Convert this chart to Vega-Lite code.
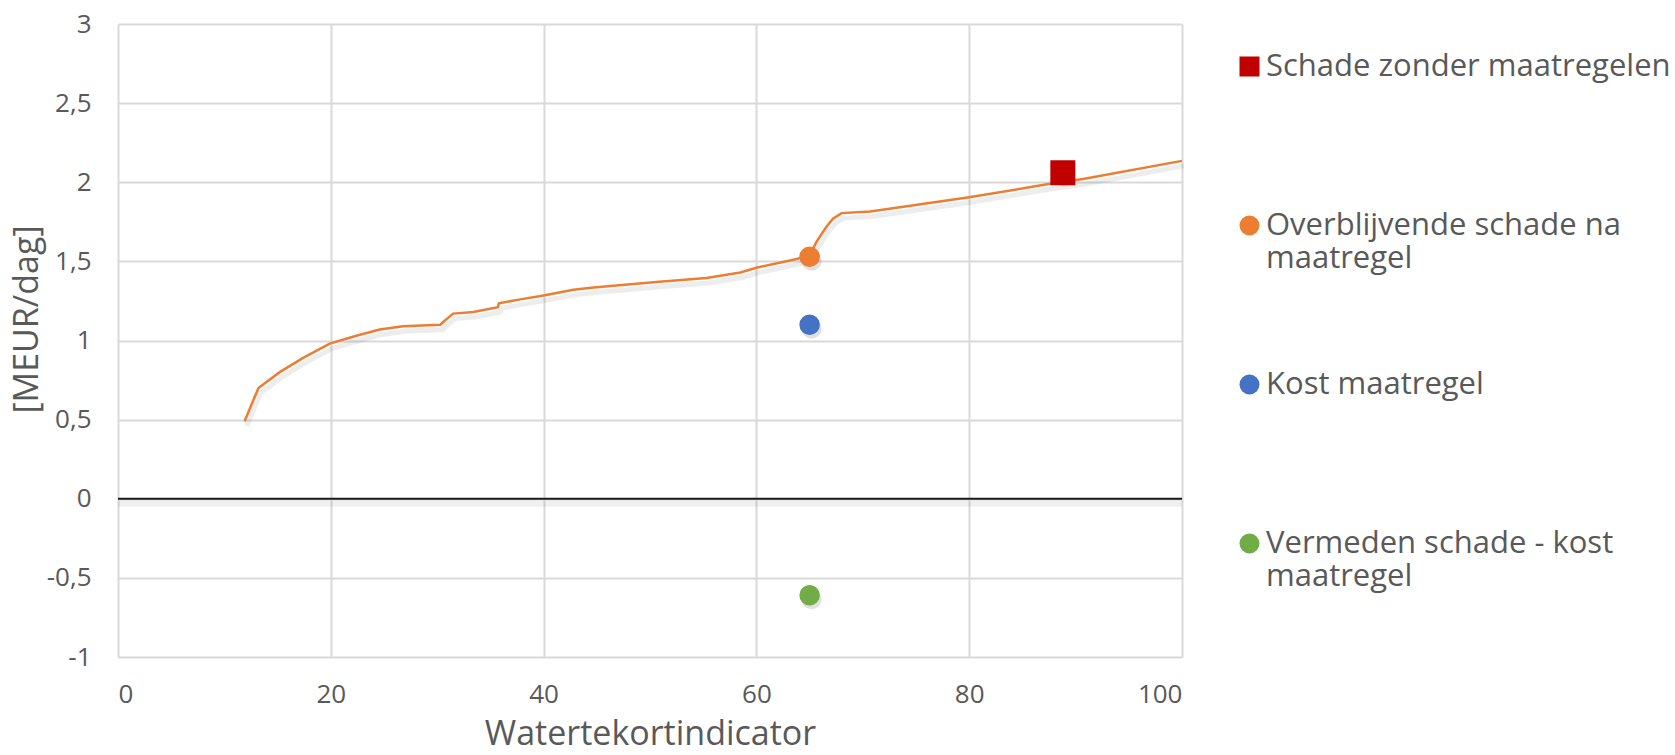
{
  "$schema": "https://vega.github.io/schema/vega-lite/v6.json",
  "width": 1064,
  "height": 633,
  "autosize": {"type": "none"},
  "padding": {"left": 118, "top": 24, "right": 493, "bottom": 98},
  "background": "white",
  "datasets": {
    "curve": [
      {"wt": 11.9, "schade": 0.49},
      {"wt": 13.2, "schade": 0.70},
      {"wt": 15.2, "schade": 0.80},
      {"wt": 17.4, "schade": 0.89},
      {"wt": 19.9, "schade": 0.98},
      {"wt": 22.4, "schade": 1.03},
      {"wt": 24.6, "schade": 1.07},
      {"wt": 26.8, "schade": 1.09},
      {"wt": 30.3, "schade": 1.10},
      {"wt": 30.7, "schade": 1.125},
      {"wt": 31.5, "schade": 1.17},
      {"wt": 33.4, "schade": 1.18},
      {"wt": 35.7, "schade": 1.21},
      {"wt": 35.8, "schade": 1.235},
      {"wt": 37.8, "schade": 1.26},
      {"wt": 40.0, "schade": 1.285},
      {"wt": 42.8, "schade": 1.32},
      {"wt": 44.7, "schade": 1.335},
      {"wt": 50.6, "schade": 1.37},
      {"wt": 55.3, "schade": 1.395},
      {"wt": 58.5, "schade": 1.43},
      {"wt": 60.0, "schade": 1.46},
      {"wt": 63.8, "schade": 1.515},
      {"wt": 65.0, "schade": 1.54},
      {"wt": 65.7, "schade": 1.63},
      {"wt": 66.6, "schade": 1.72},
      {"wt": 67.2, "schade": 1.77},
      {"wt": 68.0, "schade": 1.805},
      {"wt": 70.7, "schade": 1.815},
      {"wt": 80.0, "schade": 1.905},
      {"wt": 87.6, "schade": 1.99},
      {"wt": 90.7, "schade": 2.02},
      {"wt": 100.0, "schade": 2.135}
    ],
    "punten": [
      {"reeks": "Schade zonder maatregelen", "wt": 88.8, "waarde": 2.06},
      {"reeks": "Overblijvende schade na maatregel", "wt": 65.0, "waarde": 1.53},
      {"reeks": "Kost maatregel", "wt": 65.0, "waarde": 1.10},
      {"reeks": "Vermeden schade - kost maatregel", "wt": 65.0, "waarde": -0.61}
    ],
    "nullijn": [{"niveau": 0}]
  },
  "layer": [
    {
      "data": {"name": "nullijn"},
      "mark": {"type": "rule", "color": "#000000", "strokeWidth": 6, "opacity": 0.06, "yOffset": 5},
      "encoding": {
        "y": {"field": "niveau", "type": "quantitative", "scale": {"domain": [-1, 3], "nice": false}}
      }
    },
    {
      "data": {"name": "nullijn"},
      "mark": {"type": "rule", "color": "#1a1a1a", "strokeWidth": 2},
      "encoding": {
        "y": {"field": "niveau", "type": "quantitative"}
      }
    },
    {
      "data": {"name": "curve"},
      "mark": {"type": "line", "color": "#000000", "strokeWidth": 5, "opacity": 0.07, "xOffset": 2, "yOffset": 5},
      "encoding": {
        "x": {"field": "wt", "type": "quantitative"},
        "y": {"field": "schade", "type": "quantitative"}
      }
    },
    {
      "data": {"name": "curve"},
      "mark": {"type": "line", "color": "#ED7D31", "strokeWidth": 2.5},
      "encoding": {
        "x": {
          "field": "wt",
          "type": "quantitative",
          "scale": {"domain": [0, 100], "nice": false},
          "axis": {
            "title": "Watertekortindicator",
            "values": [0, 20, 40, 60, 80, 100],
            "labelPadding": 24,
            "titlePadding": 10
          }
        },
        "y": {
          "field": "schade",
          "type": "quantitative",
          "scale": {"domain": [-1, 3], "nice": false},
          "axis": {
            "title": "[MEUR/dag]",
            "values": [-1, -0.5, 0, 0.5, 1, 1.5, 2, 2.5, 3],
            "labelExpr": "replace(toString(datum.value), '.', ',')",
            "labelPadding": 27,
            "titlePadding": 2,
            "titleY": 295
          }
        }
      }
    },
    {
      "data": {"name": "punten"},
      "mark": {"type": "point", "filled": true, "size": 400, "opacity": 0.12, "strokeWidth": 0, "xOffset": 2, "yOffset": 4, "color": "#000000", "shape": "circle"},
      "encoding": {
        "x": {"field": "wt", "type": "quantitative"},
        "y": {"field": "waarde", "type": "quantitative"}
      }
    },
    {
      "data": {"name": "punten"},
      "transform": [{"filter": "datum.reeks === 'Schade zonder maatregelen'"}],
      "mark": {"type": "point", "filled": true, "size": 625, "opacity": 1, "strokeWidth": 0},
      "encoding": {
        "x": {"field": "wt", "type": "quantitative"},
        "y": {"field": "waarde", "type": "quantitative"},
        "color": {"field": "reeks", "type": "nominal"},
        "shape": {"field": "reeks", "type": "nominal"}
      }
    },
    {
      "data": {"name": "punten"},
      "transform": [{"filter": "datum.reeks !== 'Schade zonder maatregelen'"}],
      "mark": {"type": "point", "filled": true, "size": 420, "opacity": 1, "strokeWidth": 0},
      "encoding": {
        "x": {"field": "wt", "type": "quantitative"},
        "y": {"field": "waarde", "type": "quantitative"},
        "color": {
          "field": "reeks",
          "type": "nominal",
          "scale": {
            "domain": ["Schade zonder maatregelen", "Overblijvende schade na maatregel", "Kost maatregel", "Vermeden schade - kost maatregel"],
            "range": ["#C00000", "#ED7D31", "#4472C4", "#70AD47"]
          },
          "legend": {
            "title": null,
            "orient": "none",
            "legendX": 1116,
            "legendY": 27,
            "padding": 0,
            "symbolSize": 400,
            "symbolStrokeWidth": 0,
            "labelFont": "Open Sans",
            "labelFontSize": 31,
            "labelColor": "#595959",
            "labelOffset": 1,
            "labelLimit": 500,
            "rowPadding": 94,
            "labelExpr": "datum.label === 'Overblijvende schade na maatregel' ? ['Overblijvende schade na', 'maatregel'] : datum.label === 'Vermeden schade - kost maatregel' ? ['Vermeden schade - kost', 'maatregel'] : [datum.label, '']"
          }
        },
        "shape": {
          "field": "reeks",
          "type": "nominal",
          "scale": {
            "domain": ["Schade zonder maatregelen", "Overblijvende schade na maatregel", "Kost maatregel", "Vermeden schade - kost maatregel"],
            "range": ["square", "circle", "circle", "circle"]
          }
        }
      }
    }
  ],
  "config": {
    "view": {"stroke": null},
    "axis": {
      "grid": true,
      "gridColor": "#d9d9d9",
      "gridWidth": 2,
      "domain": false,
      "ticks": false,
      "labelFont": "Open Sans",
      "labelFontSize": 26,
      "labelColor": "#595959",
      "titleFont": "Open Sans",
      "titleFontSize": 34,
      "titleFontWeight": "normal",
      "titleColor": "#595959"
    }
  }
}
